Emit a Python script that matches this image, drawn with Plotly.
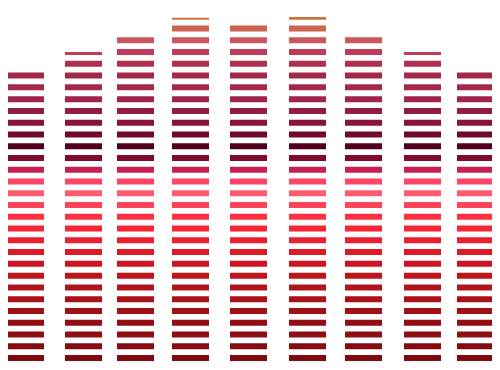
import plotly.graph_objects as go

# Category positions (numeric x axis) and bar totals
xs = [25.5, 83.5, 135.5, 190.5, 248.5, 307.5, 363.5, 422.5, 475.5]
values = [291, 309, 326, 343.3, 338, 344, 326, 309, 291]

# Colour of each repeated stripe, from bottom to top
stripe_colors = [
    "#7c0a0e", "#850c10", "#8c0e12", "#920e14", "#a01015",
    "#a81218", "#b0141c", "#c0141c", "#cc1520", "#dc1a26",
    "#e82030", "#f52535", "#ff3040", "#ff4458", "#ff5c72",
    "#ff4565", "#c82050", "#800a2e", "#500020", "#70082c",
    "#8a1438", "#941c40", "#a02448", "#a4284a", "#a4284a",
    "#b03050", "#c03a5a", "#c85860", "#cc6450", "#d07040",
]

PERIOD = 11.767   # stripe repeat (data units)
STRIPE = 6.0      # stripe thickness (data units)
BAR_W = 37

fig = go.Figure()
for k, c in enumerate(stripe_colors):
    base = k * PERIOD
    heights = [max(0.0, min(STRIPE, v - base)) for v in values]
    fig.add_trace(go.Bar(
        x=xs, y=heights, base=[base] * len(xs), width=BAR_W,
        marker=dict(color=c, line=dict(width=0)),
        hoverinfo="skip", showlegend=False,
    ))

# the page body adds an 8px offset; compensate in the axes / margins
fig.update_layout(
    width=500, height=370, autosize=False,
    barmode="overlay",
    margin=dict(l=0, r=0, t=3, b=17, pad=0),
    paper_bgcolor="white", plot_bgcolor="white",
    xaxis=dict(visible=False, range=[8, 508], fixedrange=True),
    yaxis=dict(visible=False, range=[0, 350], fixedrange=True),
)

fig.write_html("out.html")
